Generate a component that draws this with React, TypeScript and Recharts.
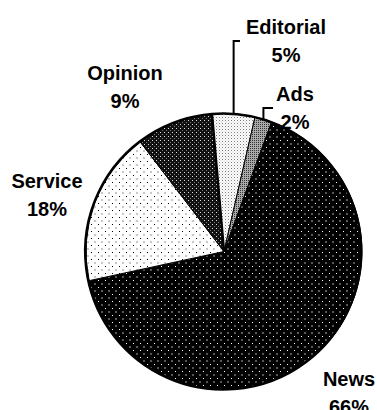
import { PieChart, Pie, Cell } from "recharts";

const CATEGORIES = ["Editorial", "Ads", "News", "Service", "Opinion"];
const SHARES = [5, 2, 66, 18, 9];
const LABELS = ["5%", "2%", "66%", "18%", "9%"];

const PATTERNS = ["pEditorial", "pAds", "pNews", "pService", "pOpinion"];

const data = CATEGORIES.map((name, i) => ({
  name,
  value: SHARES[i],
  label: LABELS[i],
}));
const outline = [{ name: "outline", value: 1 }];

const CX = 224;
const CY = 251.5;
const R = 138;
const RAD = Math.PI / 180;

// label placement relative to the pie centre: text centre x, first baseline y
// lead: for small slices, a leader goes straight up from the arc to leadY, then right to leadX
const LABEL_LAYOUT: Record<string, { dx: number; dy: number; lead?: { y: number; x: number } }> = {
  Editorial: { dx: 62, dy: -218, lead: { y: -210.5, x: 16 } },
  Ads: { dx: 71, dy: -151, lead: { y: -143.5, x: 49 } },
  News: { dx: 125, dy: 134 },
  Service: { dx: -177, dy: -64 },
  Opinion: { dx: -99, dy: -172 },
};

const textStyle = {
  fontFamily: "'Liberation Sans', Arial, sans-serif",
  fontWeight: 700,
  fontSize: 20,
};

function renderLabel(props: any) {
  const { cx, cy, midAngle, outerRadius, name, payload } = props;
  const layout = LABEL_LAYOUT[name];
  if (!layout) return null;
  const tx = cx + layout.dx;
  const ty = cy + layout.dy;
  let leader = null;
  if (layout.lead) {
    const sx = cx + outerRadius * Math.cos(-midAngle * RAD);
    const sy = cy + outerRadius * Math.sin(-midAngle * RAD);
    const ly = cy + layout.lead.y;
    const lx = cx + layout.lead.x;
    leader = (
      <polyline
        points={`${sx},${sy} ${sx},${ly} ${lx},${ly}`}
        fill="none"
        stroke="#000"
        strokeWidth={2}
      />
    );
  }
  return (
    <g>
      {leader}
      <text x={tx} y={ty} textAnchor="middle" fill="#000" style={textStyle}>
        {name}
      </text>
      <text x={tx} y={ty + 28} textAnchor="middle" fill="#000" style={textStyle}>
        {payload.label}
      </text>
    </g>
  );
}

export default function App() {
  return (
    <div style={{ position: "absolute", left: 0, top: 0, background: "#fff" }}>
      <PieChart width={377} height={410} margin={{ top: 0, right: 0, bottom: 0, left: 0 }}>
        <defs>
          <pattern id="pNews" width="7" height="7" patternUnits="userSpaceOnUse">
            <rect width="7" height="7" fill="#000" />
            <rect x="0" y="0" width="1" height="1" fill="#fff" />
            <rect x="3" y="3" width="2" height="2" fill="#555" />
          </pattern>
          <pattern id="pService" width="7" height="7" patternUnits="userSpaceOnUse">
            <rect width="7" height="7" fill="#fff" />
            <rect x="0" y="0" width="1" height="1" fill="#000" />
            <rect x="3" y="3" width="2" height="2" fill="#c8c8c8" />
          </pattern>
          <pattern id="pOpinion" width="4" height="4" patternUnits="userSpaceOnUse">
            <rect width="4" height="4" fill="#111" />
            <rect x="0" y="0" width="1" height="1" fill="#ddd" />
            <rect x="2" y="2" width="1" height="1" fill="#777" />
          </pattern>
          <pattern id="pEditorial" width="3" height="3" patternUnits="userSpaceOnUse">
            <rect width="3" height="3" fill="#fff" />
            <rect x="0" y="0" width="1" height="1" fill="#777" />
            <rect x="1.5" y="1.5" width="1" height="1" fill="#bbb" />
          </pattern>
          <pattern id="pAds" width="2" height="2" patternUnits="userSpaceOnUse">
            <rect width="2" height="2" fill="#aaa" />
            <rect x="0" y="0" width="1" height="1" fill="#333" />
          </pattern>
        </defs>
        <Pie
          data={data}
          dataKey="value"
          nameKey="name"
          cx={CX}
          cy={CY}
          outerRadius={R}
          startAngle={95}
          endAngle={-265}
          stroke="#000"
          strokeWidth={1}
          label={renderLabel}
          labelLine={false}
          isAnimationActive={false}
        >
          {data.map((d, i) => (
            <Cell key={d.name} fill={`url(#${PATTERNS[i]})`} />
          ))}
        </Pie>
        <Pie
          data={outline}
          dataKey="value"
          cx={CX}
          cy={CY}
          outerRadius={R}
          startAngle={95}
          endAngle={-265}
          fill="none"
          stroke="#000"
          strokeWidth={2.5}
          isAnimationActive={false}
        />
      </PieChart>
    </div>
  );
}
